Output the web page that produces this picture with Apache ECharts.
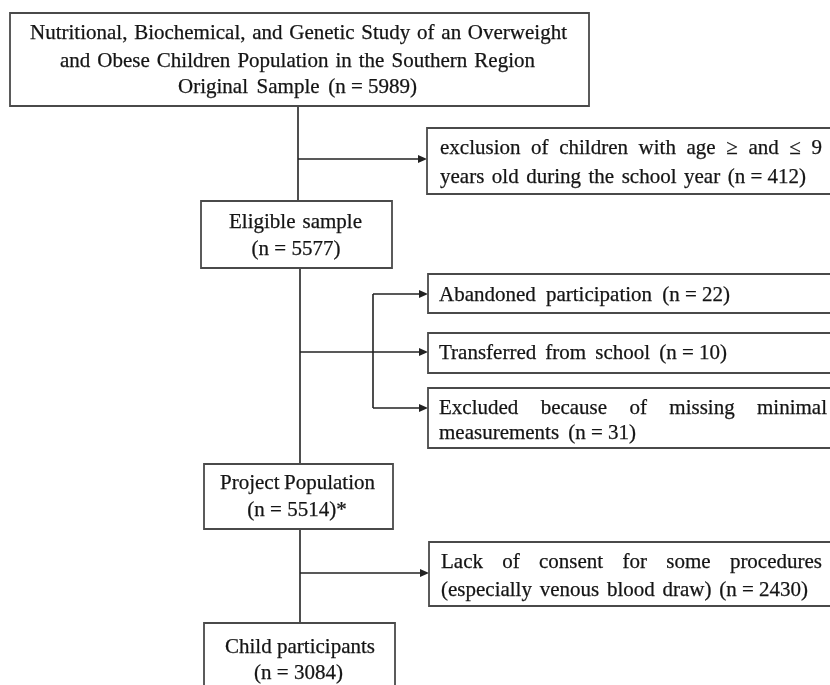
<!DOCTYPE html>
<html><head><meta charset="utf-8">
<script src="https://cdn.jsdelivr.net/npm/echarts@6/dist/echarts.min.js"></script>
<style>html,body{margin:0;padding:0;background:#fff}#c{width:830px;height:685px}</style>
</head><body><div id="c"></div>
<script>
// ---- content ----
const stageLabels = [
  ["Nutritional, Biochemical, and Genetic Study of an Overweight", "and Obese Children Population in the Southern Region", "Original Sample"],
  ["Eligible sample"],
  ["Project Population"],
  ["Child participants"]
];
const stageCounts = [5989, 5577, 5514, 3084];
const stageMarks = ["", "", "*", ""];
const exclusionLabels = [
  ["exclusion of children with age \u2265 and \u2264 9", "years old during the school year"],
  ["Abandoned participation"],
  ["Transferred from school"],
  ["Excluded because of missing minimal", "measurements"],
  ["Lack of consent for some procedures", "(especially venous blood draw)"]
];
const exclusionCounts = [412, 22, 10, 31, 2430];

// ---- layout (pixel space of the 830x685 canvas) ----
const stageCountInline = [true, false, false, false];
const stageLayout = [
  { box: [10, 13, 589, 106], lines: [[30, 567, 33], [60, 535, 61], [178, 417, 87]] },
  { box: [201, 201, 392, 268], lines: [[229, 362, 222], [250, 342, 249]] },
  { box: [204, 464, 393, 529], lines: [[220, 375, 483], [247, 347, 510]] },
  { box: [204, 623, 395, 720], lines: [[225, 375, 647], [255, 342, 673]] }
];
const exclusionLayout = [
  { box: [427, 128, 845, 194], lines: [[440, 822, 148], [440, 806, 177]] },
  { box: [428, 274, 845, 313], lines: [[439, 730, 295]] },
  { box: [428, 333, 845, 373], lines: [[439, 727, 353]] },
  { box: [428, 388, 845, 448], lines: [[439, 827, 408], [439, 636, 433]] },
  { box: [429, 542, 845, 606], lines: [[441, 822, 562], [441, 808, 590]] }
];
const connectors = [
  { pts: [[298, 106], [298, 201]] },
  { pts: [[298, 159], [427, 159]], arrow: true },
  { pts: [[300, 268], [300, 464]] },
  { pts: [[300, 352], [373, 352]] },
  { pts: [[373, 294], [373, 408]] },
  { pts: [[373, 294], [428, 294]], arrow: true },
  { pts: [[373, 352], [428, 352]], arrow: true },
  { pts: [[373, 408], [428, 408]], arrow: true },
  { pts: [[300, 529], [300, 623]] },
  { pts: [[300, 573], [429, 573]], arrow: true }
];

const FONT = '21px "Liberation Serif", "Times New Roman", serif';
const TEXT_COLOR = '#141414';
const BORDER_COLOR = '#4a4a4a';
const LINE_COLOR = '#222';

// build box text
const boxes = [];
stageLabels.forEach((lab, i) => {
  const lines = lab.slice();
  const cnt = '(n = ' + stageCounts[i] + ')' + stageMarks[i];
  if (stageCountInline[i]) lines[lines.length - 1] += ' ' + cnt; else lines.push(cnt);
  boxes.push({ lines, layout: stageLayout[i] });
});
exclusionLabels.forEach((lab, i) => {
  const lines = lab.slice();
  lines[lines.length - 1] += ' (n = ' + exclusionCounts[i] + ')';
  boxes.push({ lines, layout: exclusionLayout[i] });
});

const mctx = document.createElement('canvas').getContext('2d');
mctx.font = FONT;
function measure(t) { return mctx.measureText(t).width; }

function renderBox(params, api) {
  const b = boxes[params.dataIndex];
  const [x0, y0, x1, y1] = b.layout.box;
  const p0 = api.coord([x0, y0]), p1 = api.coord([x1, y1]);
  const children = [{
    type: 'rect',
    shape: { x: p0[0], y: p0[1], width: p1[0] - p0[0], height: p1[1] - p0[1] },
    style: { fill: '#fff', stroke: BORDER_COLOR, lineWidth: 1.8 }
  }];
  b.lines.forEach((line, li) => {
    const [lx0, lx1, ly] = b.layout.lines[li];
    const a = api.coord([lx0, ly]), c = api.coord([lx1, ly]);
    const words = line.match(/\(n = [^)]*\)\*?|\S+/g);
    const widths = words.map(measure);
    const total = widths.reduce((s, w) => s + w, 0);
    const sp = measure(' ');
    let gap = words.length > 1 ? (c[0] - a[0] - total) / (words.length - 1) : 0;
    gap = Math.max(gap, sp * 0.6);
    let x = a[0];
    if (words.length === 1) x = (a[0] + c[0]) / 2 - total / 2;
    words.forEach((w, wi) => {
      children.push({
        type: 'text',
        style: { x: x, y: a[1], text: w, font: FONT, fill: TEXT_COLOR, stroke: TEXT_COLOR, lineWidth: 0.25, align: 'left', verticalAlign: 'middle' }
      });
      x += widths[wi] + gap;
    });
  });
  return { type: 'group', children };
}

function renderConnector(params, api) {
  const cn = connectors[params.dataIndex];
  const pts = cn.pts.map(p => api.coord(p));
  const children = [];
  const end = pts[pts.length - 1].slice();
  const lpts = pts.map(p => p.slice());
  if (cn.arrow) {
    const prev = pts[pts.length - 2];
    const dx = end[0] - prev[0], dy = end[1] - prev[1];
    const len = Math.hypot(dx, dy), ux = dx / len, uy = dy / len;
    const L = 9, W = 4;
    const bx = end[0] - ux * L, by = end[1] - uy * L;
    lpts[lpts.length - 1] = [bx, by];
    children.push({
      type: 'polygon',
      shape: { points: [end, [bx - uy * W, by + ux * W], [bx + uy * W, by - ux * W]] },
      style: { fill: LINE_COLOR }
    });
  }
  children.unshift({
    type: 'polyline',
    shape: { points: lpts },
    style: { stroke: LINE_COLOR, lineWidth: 1.6, fill: null }
  });
  return { type: 'group', children };
}

const chart = echarts.init(document.getElementById('c'), null, { renderer: 'canvas' });
chart.setOption({
  backgroundColor: '#fff',
  animation: false,
  grid: { left: 0, right: 0, top: 0, bottom: 0 },
  xAxis: { type: 'value', min: 0, max: 830, show: false },
  yAxis: { type: 'value', min: 0, max: 685, inverse: true, show: false },
  series: [
    { type: 'custom', coordinateSystem: 'cartesian2d', silent: true, clip: false,
      data: connectors.map((c, i) => [i]), renderItem: renderConnector, z: 1 },
    { type: 'custom', coordinateSystem: 'cartesian2d', silent: true, clip: false,
      data: boxes.map((b, i) => [i]), renderItem: renderBox, z: 2 }
  ]
});
</script>
</body></html>
